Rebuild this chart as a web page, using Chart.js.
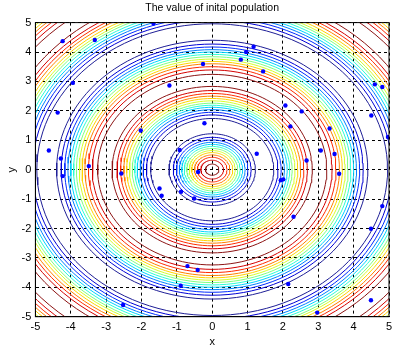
<!DOCTYPE html>
<html>
<head>
<meta charset="utf-8">
<script src="https://cdn.jsdelivr.net/npm/chart.js@4.4.1/dist/chart.umd.min.js"></script>
<style>
    html, body { margin: 0; padding: 0; background: #fff; }
    #wrap { width: 393px; height: 349px; }
</style>
</head>
<body>
<div id="wrap"><canvas id="popChart" width="393" height="349"></canvas></div>
<script>
const titleText = "The value of inital population";
const xLabel = "x";
const yLabel = "y";
const axisMin = -5;
const axisMax = 5;

// contour ring radii, one per level (level 1 = lowest / blue ... level 13 = highest / dark red)
const ringsA = [1.22, 1.10, 1.01, 0.93, 0.86, 0.79, 0.72, 0.65, 0.58, 0.50, 0.42, 0.32, 0.19];
const ringsB = [1.74, 1.86, 1.95, 2.04, 2.12, 2.19, 2.26, 2.34, 2.42, 2.50, 2.59, 2.69, 2.83];
const ringsC = [4.40, 4.27, 4.17, 4.08, 4.00, 3.92, 3.84, 3.76, 3.68, 3.60, 3.50, 3.39, 3.24];
const ringsD = [4.96, 5.08, 5.18, 5.27, 5.35, 5.43, 5.51, 5.58, 5.66, 5.75, 5.84, 5.94, 6.09];
const ringsE = [7.63, 7.50, 7.41, 7.32, 7.24, 7.16, 7.09, 7.01, 6.93, 6.85, 6.76, 6.65, 6.51];

// initial population
const popX = [-4.23, -3.32, -1.66, -3.94, -1.21, -4.37, -2.02, -4.62, -4.28, -3.49,
              -2.57, -0.92, 1.17, 0.96, 0.81, -0.26, 1.44, 4.60, 4.81, 2.07,
              2.53, 4.50, -0.22, 2.21, 3.32, 4.97, 1.26, 3.07, 3.46, 2.67,
              3.59, -0.40, -4.23, -1.49, -1.43, -0.88, -0.51, -0.70, -0.41, -0.89,
              -2.52, 1.94, 2.01, 4.81, 4.49, 2.30, 2.15, 4.49, 2.97];
const popY = [4.37, 4.41, 4.97, 2.95, 2.86, 1.94, 1.33, 0.65, 0.38, 0.12,
              -0.13, 0.67, 4.18, 4.00, 3.74, 3.59, 3.34, 2.90, 2.81, 2.18,
              1.98, 1.84, 1.58, 1.47, 1.40, 1.11, 0.54, 0.65, 0.53, 0.31,
              -0.14, -0.08, -0.22, -0.64, -0.89, -0.75, -0.98, -3.28, -3.41, -3.95,
              -4.60, -0.36, -0.33, -1.24, -2.01, -1.60, -3.89, -4.44, -4.86];

// jet colormap, one colour per level
const levelColors = [
    "rgb(30,30,150)", "rgb(0,0,212)", "rgb(0,43,255)", "rgb(0,128,255)", "rgb(0,212,255)",
    "rgb(43,255,212)", "rgb(128,255,128)", "rgb(212,255,43)", "rgb(255,212,0)",
    "rgb(255,128,0)", "rgb(255,43,0)", "rgb(212,0,0)", "rgb(140,20,20)"
];

const FONT = "'Liberation Sans', Arial, sans-serif";

function ringPoints(r) {
    const pts = [];
    for (let a = 0; a <= 360; a += 3) {
        const t = a * Math.PI / 180;
        pts.push({ x: r * Math.cos(t), y: r * Math.sin(t) });
    }
    return pts;
}

const datasets = [];

// dots first so they sit on top
datasets.push({
    label: "population",
    data: popX.map((x, i) => ({ x: x, y: popY[i] })),
    pointRadius: 2.2,
    pointBackgroundColor: "#0000ff",
    pointBorderWidth: 0,
    showLine: false
});

[ringsA, ringsB, ringsC, ringsD, ringsE].forEach(band => {
    band.forEach((r, i) => {
        datasets.push({
            data: ringPoints(r),
            showLine: true,
            borderColor: levelColors[i],
            borderWidth: 1,
            pointRadius: 0,
            tension: 0
        });
    });
});

// full black box round the plot
const boxPlugin = {
    id: "box",
    afterDatasetsDraw(chart) {
        const { ctx, chartArea: a } = chart;
        ctx.save();
        ctx.strokeStyle = "#000";
        ctx.lineWidth = 1;
        ctx.strokeRect(a.left, a.top, a.right - a.left, a.bottom - a.top);
        ctx.restore();
    }
};

function axisOpts(label, isX) {
    return {
        type: "linear",
        min: axisMin,
        max: axisMax,
        ticks: { stepSize: 1, color: "#000", font: { family: FONT, size: 11 }, padding: 4, maxRotation: 0 },
        grid: { color: "#000", lineWidth: 1, drawTicks: false },
        border: { display: true, color: "#000", dash: [3, 3] },
        title: {
            display: true,
            text: label,
            color: "#000",
            font: { family: FONT, size: 11 },
            padding: isX ? { top: 0, bottom: 0 } : { top: 5, bottom: 0 }
        },
        afterFit(s) {
            if (isX) {
                s.height = 32.3;
                s.paddingLeft = 0;
                s.paddingRight = 0;
            } else {
                s.width = 35.4;
                s.paddingTop = 0;
                s.paddingBottom = 0;
            }
        }
    };
}

new Chart(document.getElementById("popChart"), {
    type: "scatter",
    data: { datasets: datasets },
    options: {
        responsive: false,
        animation: false,
        events: [],
        layout: { padding: { left: 0, right: 2, top: 0, bottom: 0 } },
        plugins: {
            legend: { display: false },
            tooltip: { enabled: false },
            title: {
                display: true,
                text: titleText,
                fullSize: false,
                color: "#000",
                font: { family: FONT, size: 10.5, weight: "normal" },
                padding: { top: 2, bottom: 8 }
            }
        },
        scales: {
            x: axisOpts(xLabel, true),
            y: axisOpts(yLabel, false)
        }
    },
    plugins: [boxPlugin]
});
</script>
</body>
</html>
